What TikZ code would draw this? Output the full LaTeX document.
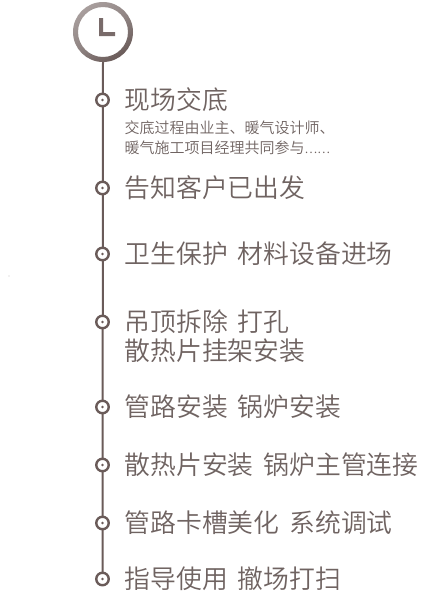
\documentclass[tikz,border=0pt]{standalone}
\usepackage{fontspec}
\setmainfont{Noto Sans CJK SC}
\newfontfamily\cjk{Noto Sans CJK SC}[UprightFont=* DemiLight]
\definecolor{ink}{HTML}{6A5B59}
\definecolor{txt}{HTML}{6F6361}
\definecolor{ringlight}{HTML}{A89E9D}
\newcommand{\gap}{\hspace{10pt}}
\tikzset{x=1pt,y=-1pt,
 dotnode/.style={circle,draw=ink,line width=2.4pt,fill=white,minimum size=12.5pt,inner sep=0pt},
 head/.style={anchor=west,inner sep=0pt,text=txt,font=\cjk\fontsize{25.8}{29}\selectfont,align=left},
 sub/.style={anchor=west,inner sep=0pt,text=txt,font=\cjk\fontsize{15}{20}\selectfont,align=left},
 hub/.style={circle,minimum size=60pt,inner sep=0pt},
}
\begin{document}
\begin{tikzpicture}
\useasboundingbox (0,0) rectangle (426,600);
\fill[white] (0,0) rectangle (426,600);
% timeline
\node[hub] (clock) at (103,32) {};
\coordinate (end) at (102.5,579);
\draw[ink,line width=2pt] (clock.south) -- (end);
% clock ring
\path[even odd rule,left color=ringlight,right color=ink,shading angle=35,
      middle color=ink!75!white] (103,32) circle (30pt) (103,32) circle (25pt);
\fill[ink!90!white] (99,18) rectangle (103.2,36) (99,32) rectangle (115,36);
% markers
\foreach \n/\y in {a/100,b/188,c/254,d/322,e/407,f/465,g/523,h/579}{
 \node[dotnode] (\n) at (102.5,\y) {};
 \fill[ink] (\n) circle (1.4pt);
}
\node[head] (ta) at (124.5,100) {现场交底};
\node[sub] (ts1) at (124.5,128) {交底过程由业主、暖气设计师、};
\node[sub] (ts2) at (124.5,147.5) {暖气施工项目经理共同参与{\fontsize{12}{20}\selectfont\ldots\ldots}};
\node[head] (tb) at (124.5,188) {告知客户已出发};
\node[head] (tc) at (124.5,254) {卫生保护\gap 材料设备进场};
\node[head] (td) at (124.5,322) {吊顶拆除\gap 打孔};
\node[head] (td2) at (124.5,351) {散热片挂架安装};
\node[head] (te) at (124.5,407) {管路安装\gap 锅炉安装};
\node[head] (tf) at (124.5,465) {散热片安装\gap 锅炉主管连接};
\node[head] (tg) at (124.5,523) {管路卡槽美化\gap 系统调试};
\node[head] (th) at (124.5,579) {指导使用\gap 撤场打扫};
\fill[ringlight!60!white] (9,276) circle (0.7pt);
\end{tikzpicture}
\end{document}
